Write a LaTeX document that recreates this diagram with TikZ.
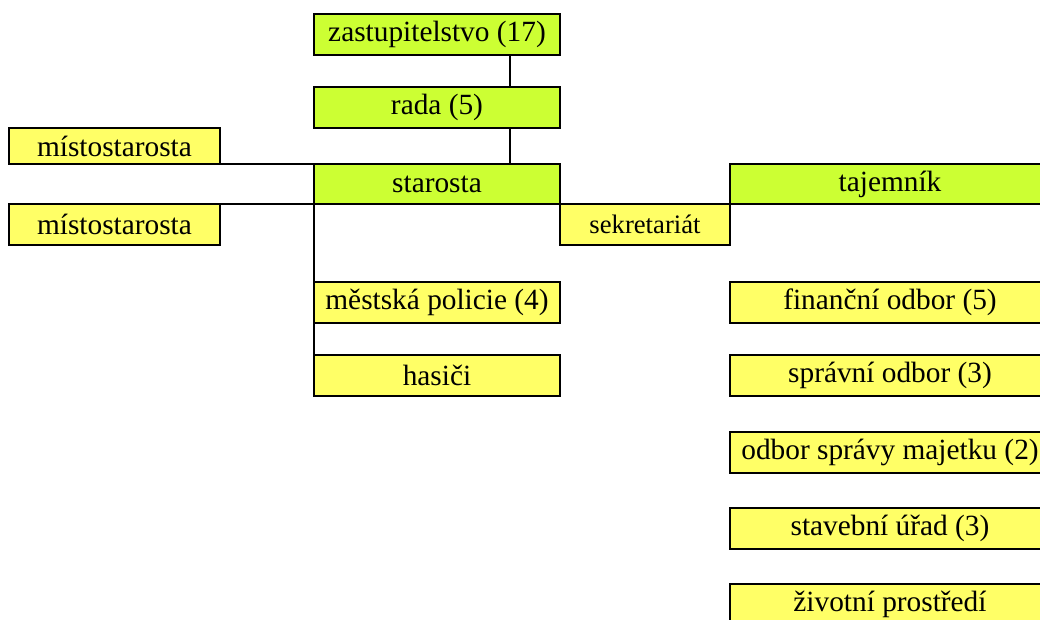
\documentclass[tikz,border=0pt]{standalone}
\usepackage{fontspec}
\setmainfont{Liberation Serif}
\newfontfamily\orgfont{Liberation Serif}
\definecolor{orglime}{RGB}{204,255,51}
\definecolor{orgyellow}{RGB}{255,255,102}
\usetikzlibrary{positioning,calc}

\tikzset{
  unit/.style={draw=black, line width=1.5pt, inner sep=0pt, outer sep=0pt, minimum height=30.75pt,
    font=\orgfont\fontsize{22}{26}\selectfont, align=center},
  head/.style={unit, fill=orglime},
  office/.style={unit, fill=orgyellow},
  link/.style={draw=black, line width=1.5pt}
}

\begin{document}
\begin{tikzpicture}[x=0.75pt, y=-0.75pt]
  \useasboundingbox (0,0) rectangle (1040,619);
  \clip (0,0) rectangle (1040,619);

  %% Council and mayor
  \node[head, minimum width=184.5pt] (zast) at (437,34.5) {zastupitelstvo (17)};
  \node[head, minimum width=184.5pt] (rada) at (437,107.5) {rada (5)};
  \node[head, minimum width=184.5pt, minimum height=30pt] (staro) at (437,184) {starosta};

  %% Deputies
  \node[office, minimum width=158.25pt, minimum height=27pt] (mist1) at (114.5,146) {místostarosta};
  \node[office, minimum width=158.25pt] (mist2) at (114.5,224.5) {místostarosta};

  %% Secretary and chief officer
  \node[office, minimum width=127.5pt, font=\orgfont\fontsize{20}{24}\selectfont] (sekr) at (645,224.5) {sekretariát};
  \node[head, minimum width=240pt, minimum height=30pt] (taj) at (890,184) {tajemník};

  %% Units under the mayor
  \node[office, minimum width=184.5pt] (polic) at (437,302.5) {městská policie (4)};
  \node[office, minimum width=184.5pt] (hasici) at (437,375.5) {hasiči};

  %% Departments
  \node[office, minimum width=240pt] (fin) at (890,302.5) {finanční odbor (5)};
  \node[office, minimum width=240pt] (sprav) at (890,375.5) {správní odbor (3)};
  \node[office, minimum width=240pt] (majet) at (890,452) {odbor správy majetku (2)};
  \node[office, minimum width=240pt] (staveb) at (890,528.5) {stavební úřad (3)};
  \node[office, minimum width=240pt] (zivot) at (890,604.5) {životní prostředí};

  %% Connectors
  \coordinate (spine) at (510,0);
  \draw[link] (spine |- zast.south) -- (spine |- rada.north);
  \draw[link] (spine |- rada.south) -- (spine |- staro.north);
  \draw[link] (mist1.south east) -- (staro.north west);
  \draw[link] (mist2.north east) -- (staro.south west);
  \draw[link] (staro.south west) -- (hasici.north west);
\end{tikzpicture}
\end{document}
